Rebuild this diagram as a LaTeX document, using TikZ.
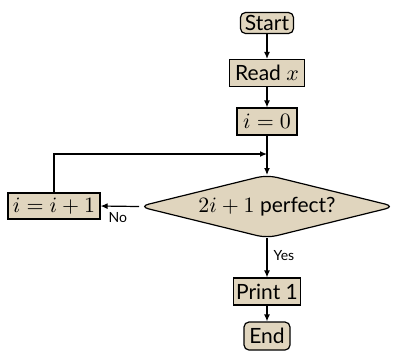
\documentclass[tikz,border=0pt]{standalone}
\usepackage{fontspec}
\setmainfont{Lato}
\usetikzlibrary{arrows.meta}
\definecolor{boxfill}{RGB}{224,213,190}
\tikzset{
  base/.style={draw=black, fill=boxfill, line width=0.6pt, inner sep=0pt, font=\fontsize{10.5}{12}\selectfont},
  term/.style={base, rounded corners=2.5pt},
  proc/.style={base},
  decshape/.style={draw=black, fill=boxfill, line width=0.6pt, rounded corners=5pt},
  conn/.style={line width=0.6pt, -{Latex[length=3.5pt,width=3pt]}},
  lbl/.style={font=\fontsize{7}{8}\selectfont, inner sep=0pt}
}
\begin{document}
\begin{tikzpicture}[x=0.5pt,y=-0.5pt]
\useasboundingbox (0,0) rectangle (394,350);
\node[term, minimum width=26.5pt, minimum height=10.5pt] (start) at (267,23) {Start};
\node[proc, minimum width=37.5pt, minimum height=13.5pt] (read) at (267,73) {Read $x$};
\node[proc, minimum width=30pt, minimum height=13.5pt] (init) at (267,121.5) {$i=0$};
\coordinate (testN) at (267,175);
\coordinate (testS) at (267,238);
\coordinate (testW) at (139,206.5);
\coordinate (testE) at (395,206.5);
\draw[decshape] (testN) -- (testE) -- (testS) -- (testW) -- cycle;
\node[font=\fontsize{10.5}{12}\selectfont, inner sep=0pt] (test) at (267,206.5) {$2i+1$ perfect?};
\node[proc, minimum width=46pt, minimum height=13pt] (inc) at (54,206) {$i=i+1$};
\node[proc, minimum width=33.5pt, minimum height=13.5pt] (print) at (267,291.5) {Print 1};
\node[term, minimum width=23pt, minimum height=14pt] (stop) at (267,336) {End};
\coordinate (join) at (267,154);
\draw[conn] (start) -- (read);
\draw[conn] (read) -- (init);
\draw[conn] (init) -- (testN);
\draw[conn] (inc.north) |- (join);
\draw[conn] (testW) -- node[lbl, pos=0.55, below=3pt] (no) {No} (inc.east);
\draw[conn] (testS) -- node[lbl, right=3pt, pos=0.45] (yes) {Yes} (print);
\draw[conn] (print) -- (stop);
\end{tikzpicture}
\end{document}
